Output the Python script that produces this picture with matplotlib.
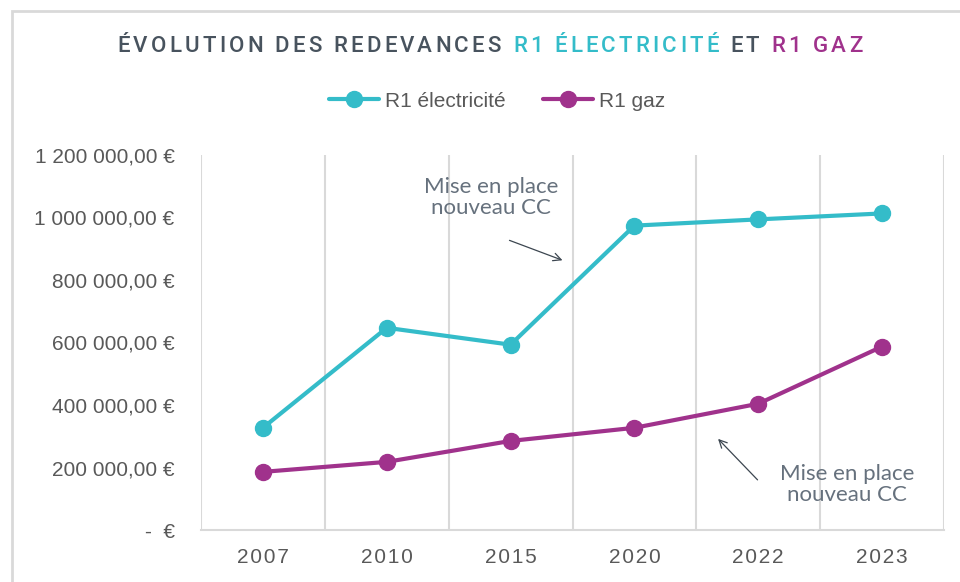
import matplotlib
matplotlib.use('Agg')
import matplotlib.pyplot as plt
from matplotlib.patches import Rectangle

years = ['2007', '2010', '2015', '2020', '2022', '2023']
r1_elec = [327000, 647000, 593000, 974000, 994000, 1013000]
r1_gaz = [186000, 218000, 285000, 327000, 404000, 587000]
ytick_vals = [0, 200000, 400000, 600000, 800000, 1000000, 1200000]
ytick_labels = ['-  €', '200 000,00 €', '400 000,00 €', '600 000,00 €',
                '800 000,00 €', '1 000 000,00 €', '1 200 000,00 €']

TEAL = '#34BCC9'
PURPLE = '#A0328C'
DARK = '#48535E'
GRID = '#D9D9D9'
LABEL = '#595959'
NOTE = '#66717D'

plt.rcParams['font.family'] = ['Liberation Sans', 'DejaVu Sans']


def spaced_title(fig, x, y, parts, size, spacing):
  # draw each character on its own, chained, to get the letter spacing
  first = None
  last = None
  for txt, col in parts:
    for ch in txt:
      if last is None:
        last = fig.text(x, y, ch, color=col, fontsize=size, family='Roboto',
                        fontweight='medium', ha='left', va='center')
        first = last
      else:
        last = fig.axes[0].annotate(ch, xy=(1, 0), xycoords=last,
                                    xytext=(spacing, 0), textcoords='offset points',
                                    color=col, fontsize=size, family='Roboto',
                                    fontweight='medium', ha='left', va='bottom',
                                    annotation_clip=False)
  fig.canvas.draw()
  r = fig.canvas.get_renderer()
  x0 = first.get_window_extent(r).x0
  x1 = last.get_window_extent(r).x1
  w = (x1 - x0) / fig.bbox.width
  first.set_x(x - w / 2)


def main():
  fig = plt.figure(figsize=(9.6, 5.82), dpi=100)
  ax = fig.add_axes([201 / 960, 1 - 530 / 582, 743 / 960, 375 / 582])

  xs = range(len(years))
  ax.plot(xs, r1_elec, color=TEAL, lw=3, marker='o', ms=11.5, label='R1 électricité',
          solid_capstyle='round', zorder=3)
  ax.plot(xs, r1_gaz, color=PURPLE, lw=3, marker='o', ms=11.5, label='R1 gaz',
          solid_capstyle='round', zorder=3)

  ax.set_xlim(-0.5, len(years) - 0.5)
  ax.set_ylim(0, 1200000)
  ax.set_yticks(ytick_vals)
  ax.set_yticklabels(ytick_labels)
  ax.set_xticks(list(xs))
  ax.set_xticklabels(['\u200a'.join(y) for y in years])
  ax.tick_params(axis='y', length=0, pad=19, labelsize=15, labelcolor=LABEL)
  ax.tick_params(axis='x', length=0, pad=13, labelsize=15, labelcolor=LABEL)

  for b in [i - 0.5 for i in range(len(years) + 1)]:
    ax.axvline(b, color=GRID, lw=1.5, zorder=1)
  for s in ['top', 'right', 'left']:
    ax.spines[s].set_visible(False)
  ax.spines['bottom'].set_color(GRID)
  ax.spines['bottom'].set_linewidth(1.5)

  note = dict(fontsize=16, color=NOTE, family=['Lato', 'DejaVu Sans'], fontweight='normal',
              ha='center', va='center', linespacing=1.1)
  arrow = dict(arrowstyle='->', color='#3C4650', lw=0.9, mutation_scale=14)
  ax.text(1.84, 1064000, 'Mise en place\nnouveau CC', **note)
  ax.annotate('', xy=(2.44, 860000), xytext=(1.97, 930000), arrowprops=arrow)
  ax.text(4.72, 145000, 'Mise en place\nnouveau CC', **note)
  ax.annotate('', xy=(3.66, 298000), xytext=(4.01, 154000), arrowprops=arrow)

  fig.legend(loc='center', bbox_to_anchor=(497 / 960, 1 - 101 / 582), ncol=2,
             frameon=False, fontsize=15, handlelength=2.4, handletextpad=0.3,
             columnspacing=1.8, labelcolor=LABEL)

  fig.patches.append(Rectangle((12 / 960, -0.1), 1.2, 1 - 11 / 582 + 0.1,
                               transform=fig.transFigure, fill=False,
                               edgecolor=GRID, lw=2))

  spaced_title(fig, 490 / 960, 1 - 47 / 582,
               [('ÉVOLUTION DES REDEVANCES ', DARK), ('R1 ÉLECTRICITÉ', TEAL),
                (' ET ', DARK), ('R1 GAZ', PURPLE)], 16, 2.3)

  fig.savefig('out.png', dpi=100)
  plt.close(fig)


if __name__ == '__main__':
  main()
